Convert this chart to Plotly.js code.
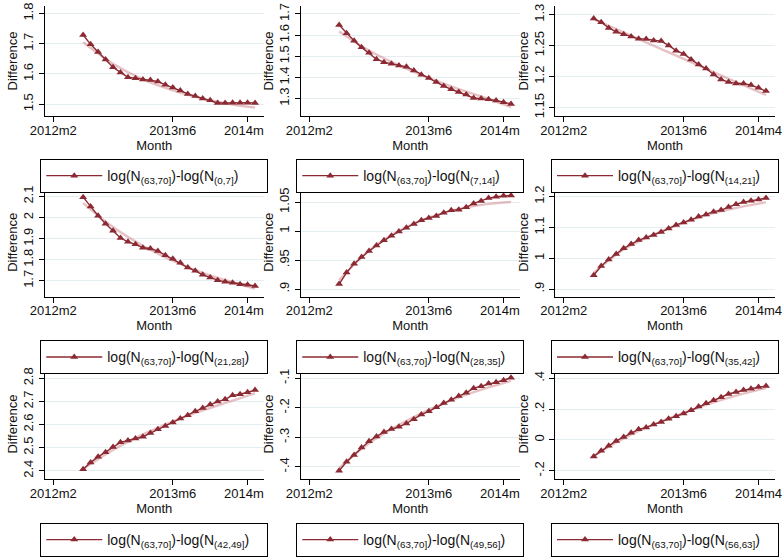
<!DOCTYPE html>
<html><head><meta charset="utf-8">
<script src="https://cdn.plot.ly/plotly-3.0.1.min.js"></script>
<style>html,body{margin:0;padding:0;background:#fff}#chart{width:783px;height:557px}</style>
</head><body><div id="chart"></div>
<script>
// ---- data ----
const months = ["2012m6","2012m7","2012m8","2012m9","2012m10","2012m11","2012m12","2013m1",
  "2013m2","2013m3","2013m4","2013m5","2013m6","2013m7","2013m8","2013m9","2013m10","2013m11",
  "2013m12","2014m1","2014m2","2014m3","2014m4","2014m5"];
const fitMonths = ["2012m6","2012m10","2013m2","2013m6","2013m10","2014m2","2014m5"];
const tickMonths = ["2012m2","2013m6","2014m4"];
const tickLabelsFull = ["2012m2","2013m6","2014m4"];
const tickLabelsClipped = ["2012m2","2013m6","2014m\u00a0\u00a0"];

const legendNames = [
  "log(N<sub>(63,70]</sub>)-log(N<sub>(0,7]</sub>)",
  "log(N<sub>(63,70]</sub>)-log(N<sub>(7,14]</sub>)",
  "log(N<sub>(63,70]</sub>)-log(N<sub>(14,21]</sub>)",
  "log(N<sub>(63,70]</sub>)-log(N<sub>(21,28]</sub>)",
  "log(N<sub>(63,70]</sub>)-log(N<sub>(28,35]</sub>)",
  "log(N<sub>(63,70]</sub>)-log(N<sub>(35,42]</sub>)",
  "log(N<sub>(63,70]</sub>)-log(N<sub>(42,49]</sub>)",
  "log(N<sub>(63,70]</sub>)-log(N<sub>(49,56]</sub>)",
  "log(N<sub>(63,70]</sub>)-log(N<sub>(56,63]</sub>)"
];

const diff1 = [1.729,1.698,1.673,1.648,1.622,1.605,1.589,1.586,1.582,1.580,1.575,1.564,1.555,1.545,1.534,1.527,1.519,1.513,1.504,1.504,1.505,1.505,1.505,1.504];
const diff2 = [1.647,1.608,1.573,1.542,1.516,1.486,1.472,1.464,1.456,1.450,1.433,1.413,1.397,1.378,1.359,1.344,1.331,1.319,1.303,1.300,1.297,1.291,1.283,1.275];
const diff3 = [1.2936,1.2877,1.2786,1.2722,1.2685,1.2647,1.2610,1.2605,1.2584,1.2573,1.2503,1.2418,1.2365,1.2274,1.2194,1.2130,1.2034,1.1954,1.1911,1.1890,1.1890,1.1863,1.1820,1.1767];
const diff4 = [2.097,2.053,2.009,1.971,1.938,1.903,1.885,1.873,1.857,1.853,1.841,1.821,1.805,1.785,1.763,1.747,1.728,1.716,1.703,1.695,1.691,1.684,1.681,1.675];
const diff5 = [0.9086,0.9285,0.9439,0.9553,0.9656,0.9753,0.9844,0.9920,0.9994,1.0057,1.0125,1.0188,1.0228,1.0262,1.0319,1.0359,1.0371,1.0411,1.0479,1.0519,1.0570,1.0593,1.0610,1.0616];
const diff6 = [0.945,0.975,0.996,1.014,1.032,1.046,1.059,1.067,1.075,1.085,1.096,1.108,1.116,1.125,1.135,1.142,1.151,1.156,1.166,1.175,1.182,1.186,1.190,1.195];
const diff7 = [2.406,2.436,2.460,2.480,2.503,2.523,2.531,2.539,2.547,2.563,2.579,2.594,2.609,2.626,2.640,2.657,2.671,2.686,2.699,2.709,2.726,2.731,2.739,2.749];
const diff8 = [-0.4134,-0.3832,-0.3597,-0.3350,-0.3137,-0.2970,-0.2824,-0.2723,-0.2645,-0.2533,-0.2388,-0.2231,-0.2119,-0.1984,-0.1839,-0.1727,-0.1604,-0.1492,-0.1335,-0.1269,-0.1179,-0.1134,-0.1067,-0.0978];
const diff9 = [-0.107,-0.0707,-0.0386,-0.0064,0.0193,0.0471,0.0686,0.0814,0.1007,0.1157,0.1371,0.1543,0.1714,0.1929,0.2164,0.2379,0.2571,0.2764,0.2979,0.3107,0.3236,0.3321,0.3429,0.3493];

const fit1 = [1.705,1.634,1.582,1.546,1.518,1.499,1.489];
const fit2 = [1.617,1.527,1.457,1.398,1.345,1.298,1.260];
const fit3 = [1.2925,1.2712,1.2498,1.2285,1.2073,1.1860,1.1703];
const fit4 = [2.069,1.955,1.866,1.795,1.738,1.693,1.663];
const fit5 = [0.9154,0.9665,1.0005,1.0235,1.0385,1.0470,1.0505];
const fit6 = [0.953,1.028,1.077,1.115,1.146,1.168,1.181];
const fit7 = [2.407,2.490,2.557,2.613,2.661,2.703,2.736];
const fit8 = [-0.404,-0.320,-0.258,-0.207,-0.165,-0.131,-0.109];
const fit9 = [-0.103,0.010,0.100,0.175,0.243,0.300,0.336];

const yTickVals = [
  [1.5,1.6,1.7,1.8],[1.3,1.4,1.5,1.6,1.7],[1.15,1.2,1.25,1.3],
  [1.7,1.8,1.9,2,2.1],[0.9,0.95,1,1.05],[0.9,1,1.1,1.2],
  [2.4,2.5,2.6,2.7,2.8],[-0.4,-0.3,-0.2,-0.1],[-0.2,0,0.2,0.4]
];
const yTickText = [
  ["1.5","1.6","1.7","1.8"],["1.3","1.4","1.5","1.6","1.7"],["1.15","1.2","1.25","1.3"],
  ["1.7","1.8","1.9","2","2.1"],[".9",".95","1","1.05"],[".9","1","1.1","1.2"],
  ["2.4","2.5","2.6","2.7","2.8"],["-.4","-.3","-.2","-.1"],["-.2","0",".2",".4"]
];
const yRanges = [
  [1.461,1.825],[1.218,1.7375],[1.1365,1.314],
  [1.6238,2.1414],[0.8867,1.0748],[0.875,1.2283],
  [2.3644,2.8394],[-0.4413,-0.0691],[-0.2534,0.4592]
];
const diffs = [diff1,diff2,diff3,diff4,diff5,diff6,diff7,diff8,diff9];
const fits = [fit1,fit2,fit3,fit4,fit5,fit6,fit7,fit8,fit9];

// ---- helpers ----
function mIndex(s){ const p = s.split("m"); return (parseInt(p[0])-2012)*12 + parseInt(p[1]) - 1; }
const W = 783, H = 557;
const colPx = [[44.5,264],[300.5,520],[555,775]];
const rowPx = [[6,117],[189.5,299.5],[372.5,483.3]];
const legendTopPx = [160.5,343.5,528];
const FONT = "Liberation Sans, Arial, sans-serif";
const mainColor = "#8c2a33";
const fitColor = "rgba(200,120,126,0.45)";

const traces = [];
const layout = {
  width: W, height: H,
  margin: {l:0,r:0,t:0,b:0},
  paper_bgcolor: "#ffffff", plot_bgcolor: "#ffffff",
  font: {family: FONT, size: 13, color: "#111"},
  showlegend: true
};

for (let k=0;k<9;k++){
  const r = Math.floor(k/3), c = k%3;
  const sfx = k===0 ? "" : String(k+1);
  const xa = "x"+sfx, ya = "y"+sfx;
  const lg = "legend"+sfx;
  traces.push({
    x: fitMonths.map(mIndex), y: fits[k], xaxis: xa, yaxis: ya,
    type: "scatter", mode: "lines", line: {color: fitColor, width: 2.4, shape: "spline", smoothing: 1},
    showlegend: false, hoverinfo: "skip"
  });
  traces.push({
    x: months.map(mIndex), y: diffs[k], xaxis: xa, yaxis: ya,
    type: "scatter", mode: "lines+markers", name: legendNames[k], legend: lg,
    line: {color: mainColor, width: 1.4},
    marker: {symbol: "triangle-up", size: 7, color: mainColor}
  });
  layout["xaxis"+sfx] = {
    domain: [colPx[c][0]/W, colPx[c][1]/W], anchor: ya,
    range: [-0.17, 29.2],
    tickmode: "array", tickvals: tickMonths.map(mIndex),
    ticktext: c<2 ? tickLabelsClipped : tickLabelsFull,
    ticks: "outside", ticklen: 5, tickcolor: "#000", tickwidth: 1,
    ticklabelstandoff: -3,
    showline: true, linecolor: "#000", linewidth: 1,
    showgrid: false, zeroline: false,
    tickfont: {size: 13, family: FONT},
    title: {text: "Month", font: {size: 13, family: FONT}, standoff: 2}
  };
  layout["yaxis"+sfx] = {
    domain: [1-rowPx[r][1]/H, 1-rowPx[r][0]/H], anchor: xa,
    range: yRanges[k],
    tickmode: "array", tickvals: yTickVals[k], ticktext: yTickText[k],
    tickangle: -90,
    ticks: "outside", ticklen: 5, tickcolor: "#000", tickwidth: 1,
    showline: true, linecolor: "#000", linewidth: 1,
    showgrid: true, gridcolor: "#e4eef0", gridwidth: 1, zeroline: false,
    tickfont: {size: 13, family: FONT},
    title: {text: "Difference", font: {size: 13, family: FONT}, standoff: 0}
  };
  layout[lg] = {
    x: (colPx[c][0]+colPx[c][1])/2/W, xanchor: "center",
    y: 1-legendTopPx[r]/H, yanchor: "top",
    orientation: "h",
    bordercolor: "#000", borderwidth: 1, bgcolor: "#fff",
    font: {size: 14, family: FONT},
    itemwidth: 56, entrywidth: 155
  };
}

Plotly.newPlot("chart", traces, layout, {staticPlot: true, displayModeBar: false});
</script>
</body></html>
